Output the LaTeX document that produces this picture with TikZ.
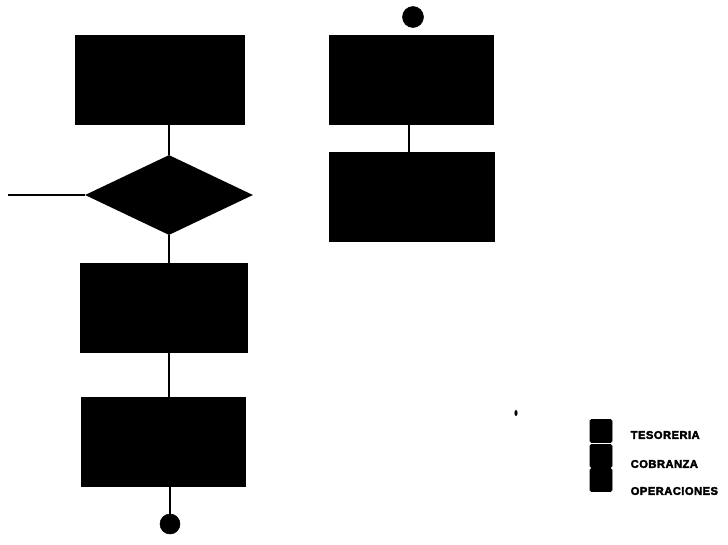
\documentclass[tikz,border=0pt]{standalone}
\usepackage{fontspec}
\setmainfont{Liberation Sans}
\newfontfamily\legfont[FakeBold=3,LetterSpace=4]{Liberation Sans Bold}
\usetikzlibrary{shapes.geometric}
\begin{document}
\begin{tikzpicture}[x=0.75pt,y=-0.75pt,
  line/.style={draw=black,line width=2pt},
  term/.style={circle,fill=black,draw=black,minimum size=20*0.75pt,inner sep=0pt},
  leg/.style={fill=black,draw=black,rounded corners=1pt,minimum width=22*0.75pt,minimum height=23*0.75pt,inner sep=0pt},
  legtxt/.style={anchor=west,font=\legfont\fontsize{8.4}{9}\selectfont}]
\useasboundingbox (0,0) rectangle (728,544);
% left column
\node[rectangle,fill=black,minimum width=170*0.75pt,minimum height=90*0.75pt,inner sep=0pt] (b1) at (160,80) {};
\node[diamond,fill=black,minimum width=168*0.75pt,minimum height=80*0.75pt,inner sep=0pt,aspect=2.1] (d1) at (169,195) {};
\node[rectangle,fill=black,minimum width=168*0.75pt,minimum height=90*0.75pt,inner sep=0pt] (b2) at (164,308) {};
\node[rectangle,fill=black,minimum width=165*0.75pt,minimum height=90*0.75pt,inner sep=0pt] (b3) at (163,442) {};
\node[term] (t1) at (170,524) {};
\coordinate (in1) at (8,195);
\draw[line] (b1.south -| d1.north) -- (d1.north);
\draw[line] (d1.south) -- (d1.south |- b2.north);
\draw[line] (b2.south -| d1.south) -- (b3.north -| d1.south);
\draw[line] (b3.south -| t1.north) -- (t1.north);
\draw[line] (in1) -- (d1.west);
% right column
\node[term,minimum size=21*0.75pt] (t2) at (413,17) {};
\node[rectangle,fill=black,minimum width=165*0.75pt,minimum height=90*0.75pt,inner sep=0pt] (b4) at (411,80) {};
\node[rectangle,fill=black,minimum width=166*0.75pt,minimum height=90*0.75pt,inner sep=0pt] (b5) at (412,197) {};
\draw[line] (409,125) -- (409,152);
% small mark
\fill (516,413) ellipse (1.6 and 3);
% legend
\node[leg] (l1) at (601,431) {};
\node[leg] (l2) at (601,456) {};
\node[leg] (l3) at (601,480) {};
\node[legtxt] (x1) at (626,435) {TESORERIA};
\node[legtxt] (x2) at (626,464) {COBRANZA};
\node[legtxt] (x3) at (626,491) {OPERACIONES};
\end{tikzpicture}
\end{document}
